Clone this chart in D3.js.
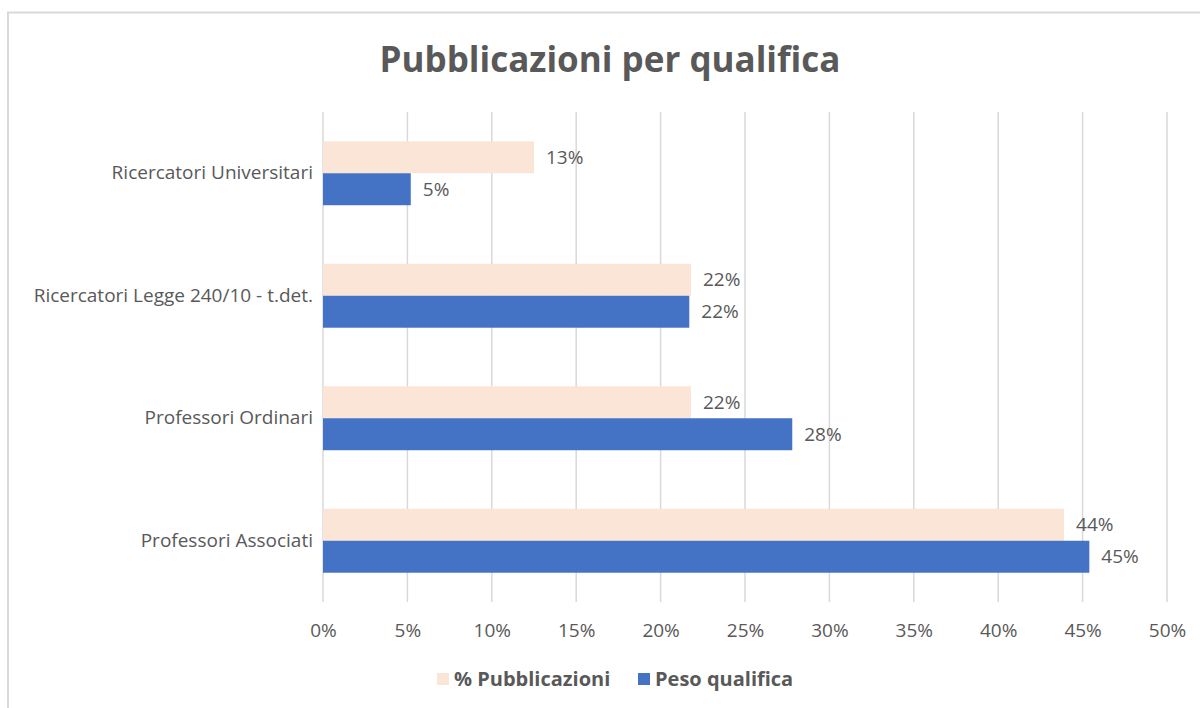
<!DOCTYPE html>
<html>
<head>
<meta charset="utf-8">
<script src="https://cdn.jsdelivr.net/npm/d3@7"></script>
<style>
  body { margin: 0; background: #fff; }
  svg { display: block; font-family: "Open Sans", "Noto Sans", sans-serif; }
</style>
</head>
<body>
<script>
// data
var categories = ["Ricercatori Universitari", "Ricercatori Legge 240/10 - t.det.", "Professori Ordinari", "Professori Associati"];
var seriesNames = ["% Pubblicazioni", "Peso qualifica"];
var pubblicazioni = [12.5, 21.8, 21.8, 43.9];
var pesoQualifica = [5.2, 21.7, 27.8, 45.4];
var tickValues = [0, 5, 10, 15, 20, 25, 30, 35, 40, 45, 50];

var colors = ["#FBE5D6", "#4472C4"];
var textColor = "#595959";
var fontFamily = "'Open Sans', 'Noto Sans', sans-serif";
var labelSize = 19;

var svgWidth = 1200;
var svgHeight = 708;

var margin = { top: 112, right: 33, bottom: 106, left: 323 };
var chartWidth = svgWidth - margin.left - margin.right;
var chartHeight = svgHeight - margin.top - margin.bottom;

var svg = d3.select("body").append("svg")
    .attr("width", svgWidth)
    .attr("height", svgHeight);

// chart border
svg.append("rect")
    .attr("x", 8).attr("y", 12.5)
    .attr("width", 1210).attr("height", 720)
    .attr("fill", "none")
    .attr("stroke", "#d9d9d9")
    .attr("stroke-width", 2);

// title
svg.append("text")
    .attr("x", 610).attr("y", 72)
    .attr("text-anchor", "middle")
    .attr("font-size", 35)
    .attr("font-weight", "bold")
    .attr("fill", textColor)
    .text("Pubblicazioni per qualifica");

var chartGroup = svg.append("g")
    .attr("transform", `translate(${margin.left}, ${margin.top})`);

var xScale = d3.scaleLinear()
    .domain([0, 50])
    .range([0, chartWidth]);

var yScale = d3.scaleBand()
    .domain(categories)
    .range([0, chartHeight])
    .paddingInner(0.478)
    .paddingOuter(0.239);

var subScale = d3.scaleBand()
    .domain(seriesNames)
    .range([0, yScale.bandwidth()]);

// gridlines
chartGroup.selectAll(".grid")
    .data(tickValues)
    .join("line")
    .attr("class", "grid")
    .attr("x1", d => xScale(d))
    .attr("x2", d => xScale(d))
    .attr("y1", 0)
    .attr("y2", chartHeight)
    .attr("stroke", "#d9d9d9")
    .attr("stroke-width", 1.5);

// x axis labels
var xAxis = d3.axisBottom(xScale)
    .tickValues(tickValues)
    .tickFormat(d => d + "%")
    .tickSize(0)
    .tickPadding(22);

var xAxisG = chartGroup.append("g")
    .attr("transform", `translate(0, ${chartHeight})`)
    .call(xAxis);
xAxisG.select(".domain").remove();
xAxisG.selectAll("text")
    .attr("font-size", labelSize)
    .attr("font-family", fontFamily)
    .attr("fill", textColor);

// y axis labels
var yAxis = d3.axisLeft(yScale).tickSize(0).tickPadding(10);
var yAxisG = chartGroup.append("g").call(yAxis);
yAxisG.select(".domain").remove();
yAxisG.selectAll("text")
    .attr("font-size", labelSize)
    .attr("font-family", fontFamily)
    .attr("fill", textColor);

var rows = categories.map((c, i) => ({
    category: c,
    values: [
        { series: seriesNames[0], value: pubblicazioni[i] },
        { series: seriesNames[1], value: pesoQualifica[i] }
    ]
}));

var groups = chartGroup.selectAll(".group")
    .data(rows)
    .join("g")
    .attr("class", "group")
    .attr("transform", d => `translate(0, ${yScale(d.category)})`);

groups.selectAll("rect")
    .data(d => d.values)
    .join("rect")
    .attr("x", 0)
    .attr("y", d => subScale(d.series))
    .attr("width", d => xScale(d.value))
    .attr("height", subScale.bandwidth())
    .attr("fill", (d, i) => colors[i]);

groups.selectAll(".label")
    .data(d => d.values)
    .join("text")
    .attr("class", "label")
    .attr("x", d => xScale(d.value) + 12)
    .attr("y", d => subScale(d.series) + subScale.bandwidth() / 2)
    .attr("dy", "0.35em")
    .attr("font-size", labelSize)
    .attr("fill", textColor)
    .text(d => Math.round(d.value) + "%");

// legend
var legendItems = [
    { name: seriesNames[0], x: 437 },
    { name: seriesNames[1], x: 638 }
];
var legend = svg.selectAll(".legend")
    .data(legendItems)
    .join("g")
    .attr("class", "legend")
    .attr("transform", d => `translate(${d.x}, 679)`);

legend.append("rect")
    .attr("x", 0).attr("y", -6)
    .attr("width", 12).attr("height", 12)
    .attr("fill", (d, i) => colors[i]);

legend.append("text")
    .attr("x", 17)
    .attr("dy", "0.35em")
    .attr("font-size", 20)
    .attr("font-weight", "bold")
    .attr("fill", textColor)
    .text(d => d.name);
</script>
</body>
</html>
